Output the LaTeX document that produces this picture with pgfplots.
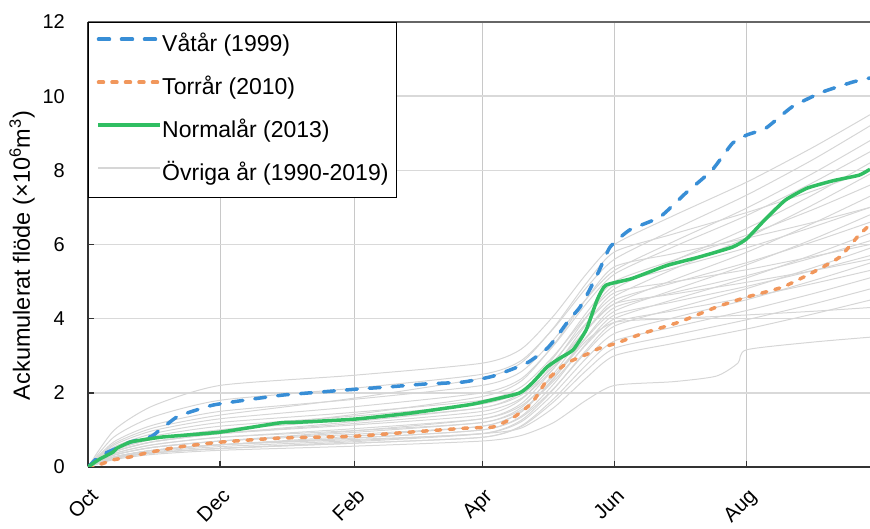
\documentclass[border=0pt]{standalone}
\usepackage{fontspec}
\setmainfont{Liberation Sans}
\usepackage{pgfplots}
\pgfplotsset{compat=1.18}
\usepackage{pgfplotstable}
\definecolor{cblue}{RGB}{56,142,214}
\definecolor{corange}{RGB}{241,151,92}
\definecolor{cgreen}{RGB}{48,190,98}
\definecolor{cgray}{RGB}{214,214,214}
\definecolor{gridh}{RGB}{217,217,217}
\definecolor{gridv}{RGB}{200,200,200}
\pgfplotstableread{
d L1 L2 L3 L4 L5 L6 L7 L8 L9 L10 L11 L12 L13 L14 L15 L16 L17 L18 L19 L20 L21 L22 L23 L24
0 0 0 0 0 0 0 0 0 0 0 0 0 0 0 0 0 0 0 0 0 0 0 0 0
12 0.99 0.81 0.68 0.59 0.54 0.50 0.45 0.41 0.41 0.36 0.36 0.32 0.32 0.27 0.27 0.27 0.23 0.23 0.23 0.25 0.63 0.45 0.32 0.41
30 1.65 1.35 1.13 0.98 0.90 0.83 0.75 0.68 0.68 0.60 0.60 0.53 0.53 0.45 0.45 0.45 0.38 0.38 0.38 0.41 1.05 0.75 0.53 0.68
61 2.20 1.80 1.50 1.30 1.20 1.10 1.00 0.90 0.90 0.80 0.80 0.70 0.70 0.60 0.60 0.60 0.50 0.50 0.50 0.55 1.40 1.00 0.70 0.90
122 2.47 2.12 1.82 1.62 1.47 1.37 1.27 1.17 1.13 1.03 0.98 0.93 0.88 0.78 0.78 0.74 0.68 0.64 0.64 0.71 1.85 1.41 0.97 1.22
182 2.80 2.50 2.20 2.00 1.80 1.70 1.60 1.50 1.40 1.30 1.20 1.20 1.10 1.00 1.00 0.90 0.90 0.80 0.80 0.90 2.40 1.90 1.30 1.60
200 3.18 2.87 2.57 2.38 2.16 2.05 2.01 1.85 1.82 1.65 1.60 1.54 1.48 1.34 1.37 1.22 1.26 1.11 1.09 1.05 2.81 2.32 1.71 1.94
215 4.08 3.74 3.44 3.28 3.00 2.86 2.96 2.66 2.80 2.46 2.52 2.32 2.38 2.12 2.24 1.98 2.10 1.84 1.76 1.60 3.76 3.30 2.66 2.72
230 5.20 4.83 4.53 4.40 4.05 3.88 4.15 3.68 4.03 3.48 3.68 3.30 3.50 3.10 3.33 2.93 3.15 2.75 2.60 2.40 4.95 4.53 3.85 3.70
243 6.00 5.60 5.30 5.20 4.80 4.60 5.00 4.40 4.90 4.20 4.50 4.00 4.30 3.80 4.10 3.60 3.90 3.40 3.20 3.00 5.80 5.40 4.70 4.40
270 6.77 6.39 6.07 5.93 5.55 5.33 5.57 5.04 5.36 4.77 4.96 4.51 4.70 4.26 4.45 4.02 4.21 3.77 3.55 3.33 6.28 5.75 4.99 4.66
304 7.68 7.33 6.98 6.78 6.43 6.18 6.25 5.79 5.91 5.45 5.51 5.10 5.16 4.81 4.87 4.51 4.57 4.22 3.97 3.72 6.86 6.17 5.32 4.98
335 8.63 8.30 7.93 7.68 7.35 7.08 6.95 6.58 6.48 6.15 6.08 5.73 5.65 5.38 5.30 5.03 4.95 4.68 4.40 4.13 7.45 6.60 5.68 5.30
361 9.50 9.20 8.80 8.50 8.20 7.90 7.60 7.30 7.00 6.80 6.60 6.30 6.10 5.90 5.70 5.50 5.30 5.10 4.80 4.50 8.00 7.00 6.00 5.60
}\grays
\begin{document}
\begin{tikzpicture}
\begin{axis}[
  scale only axis, width=782pt, height=445pt,
  xmin=0, xmax=361, ymin=0, ymax=12,
  xtick={0,61,123,182,243,304}, xticklabels={Oct,Dec,Feb,Apr,Jun,Aug},
  ytick={0,2,...,12},
  axis lines=left, axis line style={-, line width=2pt, black!80},
  tick align=inside, major tick length=6pt, tick style={line width=1.5pt, black!80},
  grid=major,
  x grid style={line width=0.8pt, color=gridv},
  y grid style={line width=1.5pt, color=gridh},
  /pgf/number format/assume math mode=true,
  xticklabel style={font=\fontsize{20.5}{24}\selectfont, inner sep=0pt, anchor=north east, xshift=1pt, yshift=-20pt, rotate=45},
  yticklabel style={font=\fontsize{20}{24}\selectfont, inner sep=0pt, xshift=-23pt},
  every axis y label/.style={at={(axis description cs:-0.0844,0.475)}, rotate=90, anchor=center, font=\fontsize{23.5}{27}\selectfont},
  ylabel={Ackumulerat flöde (×10\textsuperscript{6}m\textsuperscript{3})},
  legend style={at={(axis description cs:0,1)}, anchor=north west, draw=black, line width=1.5pt, fill=white,
    font=\fontsize{23}{27}\selectfont, inner xsep=8pt, inner ysep=12pt, row sep=21pt,
    nodes={inner sep=0pt, text height=17pt, text depth=5pt},
    /tikz/every even column/.append style={column sep=5pt}},
  legend cell align=left,
  legend image code/.code={\draw[#1] (0pt,6.5pt) -- (62pt,6.5pt);},
  othr/.style={color=cgray, line width=1pt, forget plot, smooth, tension=0.4},
]
\pgfplotsinvokeforeach{1,...,24}{\addplot[othr] table[x=d, y=L#1]{\grays};}
\addplot[othr] coordinates {(0,0)(12,0.2)(30,0.34)(61,0.45)(122,0.56)(182,0.7)(200,0.85)(215,1.2)(230,1.8)(243,2.2)(270,2.3)(290,2.45)(300,2.8)(304,3.16)(335,3.37)(361,3.5)};
\addplot[othr] coordinates {(0,0)(12,0.27)(30,0.45)(61,0.6)(122,0.83)(182,1.1)(200,1.5)(215,2.4)(230,3.4)(243,3.9)(270,4.0)(304,4.1)(335,4.2)(361,4.3)};
\addplot[color=cblue, line width=3.5pt, line cap=round, dash pattern=on 11pt off 12pt, smooth, tension=0.3] coordinates {
(0,0)(5.5,0.3)(13.4,0.51)(19.4,0.67)(27.2,0.78)(30,0.85)(33.2,1.0)(41,1.35)(47,1.48)(57.7,1.67)(73.3,1.81)(90,1.94)(107,2.02)(124,2.1)(139,2.16)(156,2.24)(173,2.29)(187,2.45)(202.5,2.8)(212,3.2)(216,3.48)(222,3.96)(227,4.3)(231.5,4.77)(236,5.3)(241,5.93)(250,6.39)(264,6.74)(276,7.39)(288,8.0)(297.5,8.73)(304,8.95)(313,9.14)(325,9.71)(339,10.11)(353,10.38)(361,10.49)};
\addlegendentry{Våtår (1999)}
\addplot[color=corange, line width=3.5pt, line cap=round, dash pattern=on 5pt off 8.5pt, smooth, tension=0.3] coordinates {
(0,0)(2.3,0)(11.5,0.19)(19.4,0.27)(27,0.38)(42,0.54)(61,0.67)(88.6,0.78)(123,0.83)(148.5,0.94)(175,1.05)(187,1.08)(196,1.32)(205,1.73)(212,2.35)(221,2.8)(231.5,3.07)(236,3.2)(244,3.34)(256,3.6)(273,3.91)(290,4.31)(304,4.58)(320.6,4.85)(334,5.23)(347,5.66)(356,6.26)(361,6.53)};
\addlegendentry{Torrår (2010)}
\addplot[color=cgreen, line width=3.5pt, smooth, tension=0.3] coordinates {
(0,0)(5,0.2)(11.5,0.4)(13.4,0.51)(19.4,0.67)(24,0.72)(34.6,0.81)(61,0.94)(88.6,1.19)(98,1.21)(123,1.29)(148.5,1.45)(175,1.67)(182,1.75)(199,1.99)(205,2.26)(212,2.7)(218,2.94)(224,3.16)(230,3.7)(235,4.5)(239,4.9)(251,5.08)(267,5.43)(282,5.66)(297.5,5.93)(304,6.15)(313,6.7)(322,7.2)(332,7.52)(344,7.72)(356,7.87)(361,8.03)};
\addlegendentry{Normalår (2013)}
\addlegendimage{color=cgray, line width=1.5pt}
\addlegendentry{Övriga år (1990-2019)}
\draw[line width=2pt, black!60] (rel axis cs:0,1) -- (rel axis cs:1,1);
\coordinate (SW) at (rel axis cs:0,0);
\coordinate (NE) at (rel axis cs:1,1);
\end{axis}
\pgfresetboundingbox
\path[use as bounding box] ([xshift=-88pt,yshift=-62pt]SW) rectangle ([yshift=22pt]NE);
\end{tikzpicture}
\end{document}
